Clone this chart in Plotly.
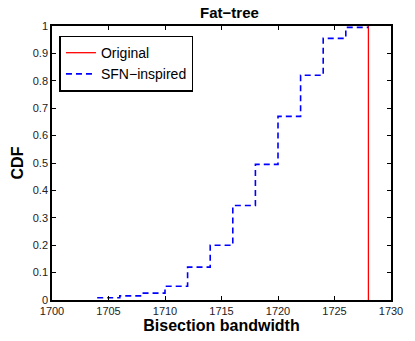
import plotly.graph_objects as go

bw_steps = [1704, 1706, 1708, 1710, 1712, 1714, 1716, 1718, 1720, 1722, 1724, 1726, 1728]
cdf_vals = [0.008, 0.015, 0.025, 0.05, 0.12, 0.2, 0.345, 0.495, 0.67, 0.82, 0.955, 0.995, 0.995]
orig_x = [1728, 1728]
orig_y = [0, 1]
xticks = [1700, 1705, 1710, 1715, 1720, 1725, 1730]
yticks = [0, 0.1, 0.2, 0.3, 0.4, 0.5, 0.6, 0.7, 0.8, 0.9, 1]

FONT = "Liberation Sans, Arial"
fig = go.Figure()
fig.add_trace(go.Scatter(x=orig_x, y=orig_y, mode="lines", name="Original",
                         line=dict(color="red", width=1.3)))
fig.add_trace(go.Scatter(x=bw_steps, y=cdf_vals, mode="lines", name="SFN\u2212inspired",
                         line=dict(color="blue", width=1.6, dash="6px,4px", shape="hv")))

axis_common = dict(showline=True, linecolor="black", linewidth=1.5, mirror="ticks",
                   ticks="inside", ticklen=4, tickcolor="black", showgrid=False,
                   zeroline=False, tickfont=dict(family=FONT, size=11, color="#222"))
fig.update_xaxes(range=[1700, 1730], tickvals=xticks, ticktext=[str(t) for t in xticks],
                 title=dict(text="<b>Bisection bandwidth</b>", font=dict(family=FONT, size=16, color="black"), standoff=1),
                 **axis_common)
fig.update_yaxes(range=[0, 1], tickvals=yticks, ticktext=[("%g" % t) for t in yticks],
                 title=dict(text="<b>CDF</b>", font=dict(family=FONT, size=16, color="black"), standoff=5),
                 **axis_common)
fig.update_layout(
    width=415, height=341,
    margin=dict(l=52, r=12, t=26, b=38),
    paper_bgcolor="white", plot_bgcolor="white",
    title=dict(text="<b>Fat\u2212tree</b>", x=0.553, xanchor="center", y=0.963, yanchor="middle",
               font=dict(family=FONT, size=15, color="black")),
    legend=dict(x=0.022, y=0.965, xanchor="left", yanchor="top", bordercolor="black", borderwidth=1.5,
                bgcolor="white", font=dict(family=FONT, size=14, color="black"),
                tracegroupgap=0, itemwidth=30),
    showlegend=True,
)
fig.write_html("out.html")
